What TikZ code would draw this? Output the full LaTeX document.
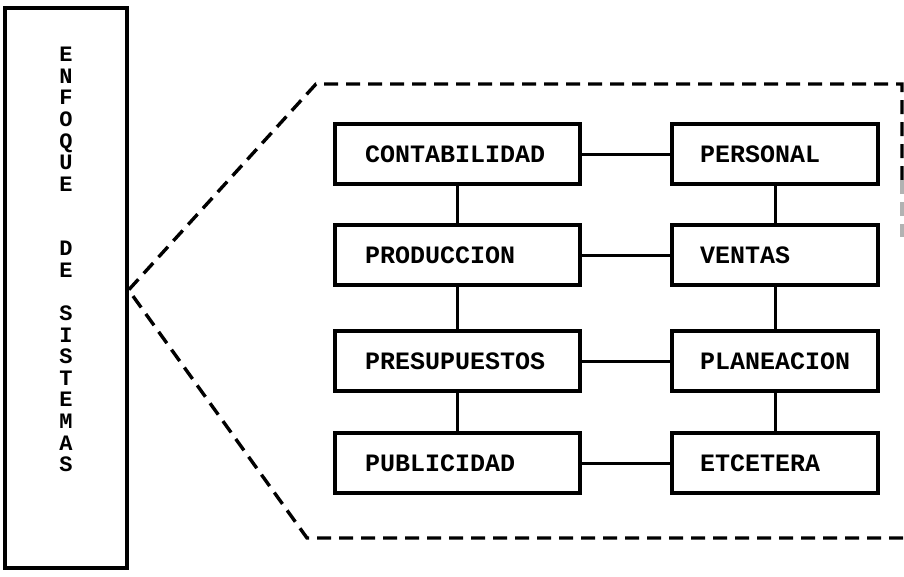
\documentclass[tikz,border=0pt]{standalone}
\usepackage{fontspec}
\setmonofont{Liberation Mono}
\begin{document}
\begin{tikzpicture}[x=1pt,y=-1pt,
  box/.style={draw, line width=3.2pt, font=\ttfamily\bfseries\fontsize{25}{25}\selectfont, minimum height=60pt, align=left, anchor=center, inner ysep=0pt},
  lbox/.style={box, text width=185pt, inner xsep=30pt, minimum width=245pt},
  rbox/.style={box, text width=150pt, inner xsep=28pt, minimum width=206pt},
  link/.style={line width=3pt},
  dashline/.style={line width=3.4pt, dash pattern=on 14pt off 8pt},
  vtext/.style={font=\ttfamily\bfseries\fontsize{22}{21.58}\selectfont, align=center, inner sep=0pt, anchor=north}
]
\useasboundingbox (0,0) rectangle (904,576);
% left tall box
\node[draw, line width=3.2pt, minimum width=122pt, minimum height=560pt, inner sep=0pt] (big) at (66,288) {};
\node[vtext] (title) at (66,47) {E\\N\\F\\O\\Q\\U\\E\\\mbox{}\\\mbox{}\\D\\E\\\mbox{}\\S\\I\\S\\T\\E\\M\\A\\S};
\coordinate (apex) at ([yshift=-2pt]big.east);
\coordinate (tl) at (316,84);
\coordinate (tr) at (902,84);
\coordinate (rm) at (902,180);
\coordinate (rb) at (902,237);
\coordinate (bl) at (307,538);
\coordinate (br) at (904,538);
\draw[dashline] (rm) -- (tr) -- (tl) -- (apex) -- (bl) -- (br);
\draw[dashline, gray!60] (rm) -- (rb);
% boxes
\node[lbox] (c1) at (457.5,154) {CONTABILIDAD};
\node[lbox] (c2) at (457.5,255) {PRODUCCION};
\node[lbox] (c3) at (457.5,361) {PRESUPUESTOS};
\node[lbox] (c4) at (457.5,463) {PUBLICIDAD};
\node[rbox] (r1) at (775,154) {PERSONAL};
\node[rbox] (r2) at (775,255) {VENTAS};
\node[rbox] (r3) at (775,361) {PLANEACION};
\node[rbox] (r4) at (775,463) {ETCETERA};
% connectors
\draw[link] (c1) -- (c2);
\draw[link] (c2) -- (c3);
\draw[link] (c3) -- (c4);
\draw[link] (r1) -- (r2);
\draw[link] (r2) -- (r3);
\draw[link] (r3) -- (r4);
\draw[link] (c1) -- (r1);
\draw[link] (c2) -- (r2);
\draw[link] (c3) -- (r3);
\draw[link] (c4) -- (r4);
\end{tikzpicture}
\end{document}
